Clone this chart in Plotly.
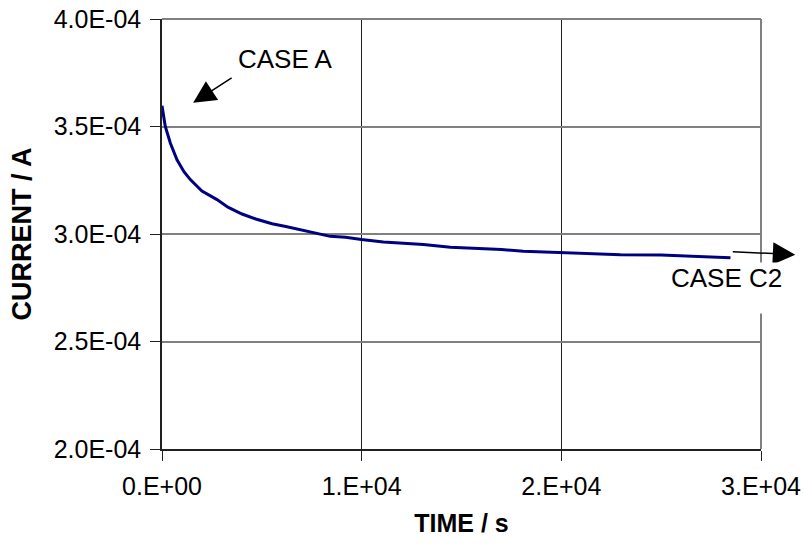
import plotly.graph_objects as go

# ---- data ----
time_s = [0, 165, 416, 751, 1100, 1418, 2000, 2755, 3300, 4008, 4700, 5511, 6200,
          6924, 7700, 8427, 9200, 9985, 11087, 12000, 13091, 14444, 15947, 17000,
          18101, 19905, 21000, 22961, 25000, 26969, 28472]
current_e4 = [3.596, 3.50, 3.423, 3.345, 3.29, 3.253, 3.20, 3.16, 3.125, 3.093, 3.07,
              3.048, 3.035, 3.02, 3.005, 2.989, 2.985, 2.974, 2.963, 2.958, 2.951,
              2.938, 2.932, 2.928, 2.920, 2.915, 2.910, 2.904, 2.902, 2.896, 2.889]
current_A = [v * 1e-4 for v in current_e4]

x_tickvals = [0, 10000, 20000, 30000]
x_ticktext = ["0.E+00", "1.E+04", "2.E+04", "3.E+04"]
y_tickvals = [2.0e-4, 2.5e-4, 3.0e-4, 3.5e-4, 4.0e-4]
y_ticktext = ["2.0E-04", "2.5E-04", "3.0E-04", "3.5E-04", "4.0E-04"]

FONT = "Liberation Sans, Arial, sans-serif"

fig = go.Figure()
fig.add_trace(go.Scatter(
    x=time_s, y=current_A, mode="lines",
    line=dict(color="#000080", width=3),
    showlegend=False, hoverinfo="skip",
))

fig.update_layout(
    width=804, height=550,
    margin=dict(l=162, r=43, t=19, b=101),
    paper_bgcolor="white", plot_bgcolor="white",
    font=dict(family=FONT, color="black"),
    showlegend=False,
)

fig.update_xaxes(
    range=[0, 30000], tickvals=x_tickvals, ticktext=x_ticktext,
    tickfont=dict(size=25, family=FONT, color="black"),
    ticks="outside", ticklen=10, tickcolor="#202020", tickwidth=1,
    showline=True, linecolor="#202020", linewidth=1.5,
    showgrid=True, gridcolor="#202020", gridwidth=1,
    zeroline=False, ticklabelstandoff=4, automargin=False,
    ticklabeloverflow="allow",
    title=dict(text="<b>TIME / s</b>", font=dict(size=25, family=FONT, color="black"),
               standoff=16),
)
fig.update_yaxes(
    range=[2.0e-4, 4.0e-4], tickvals=y_tickvals, ticktext=y_ticktext,
    tickfont=dict(size=25, family=FONT, color="black"),
    ticks="outside", ticklen=10, tickcolor="#202020", tickwidth=1,
    showline=True, linecolor="#202020", linewidth=1.5,
    showgrid=True, gridcolor="#808080", gridwidth=1.5,
    zeroline=False, ticklabelstandoff=4, automargin=False,
    ticklabeloverflow="allow",
    title=dict(text="<b>CURRENT / A</b>", font=dict(size=27, family=FONT, color="black"),
               standoff=14),
)

# plot-area border (top and right) in grey
fig.add_shape(type="line", xref="paper", yref="paper", x0=0, x1=1, y0=1, y1=1,
              line=dict(color="#808080", width=2))
fig.add_shape(type="line", xref="paper", yref="paper", x0=1, x1=1, y0=0, y1=1,
              line=dict(color="#808080", width=2))

# annotations
fig.add_annotation(x=1560, y=3.61e-4, xref="x", yref="y", text="",
                   showarrow=True, arrowhead=2, arrowsize=3.0, arrowwidth=1.5,
                   arrowcolor="black", ax=40, ay=-26)
fig.add_annotation(x=6200, y=3.815e-4, xref="x", yref="y", text="CASE A",
                   showarrow=False, font=dict(size=26, family=FONT, color="black"))

fig.add_annotation(x=1.0573, y=2.904e-4, xref="paper", yref="y", text="",
                   showarrow=True, arrowhead=2, arrowsize=3.0, arrowwidth=1.5,
                   arrowcolor="black", ax=-64, ay=-3)
fig.add_annotation(x=0.9423, y=2.872e-4, xref="paper", yref="y", text="CASE C2",
                   showarrow=False, xanchor="center", yanchor="top", valign="top",
                   height=50, bgcolor="white", borderpad=0,
                   font=dict(size=26, family=FONT, color="black"))

fig.write_html("out.html", config={"displayModeBar": False},
               post_script="document.body.style.margin='0';")
